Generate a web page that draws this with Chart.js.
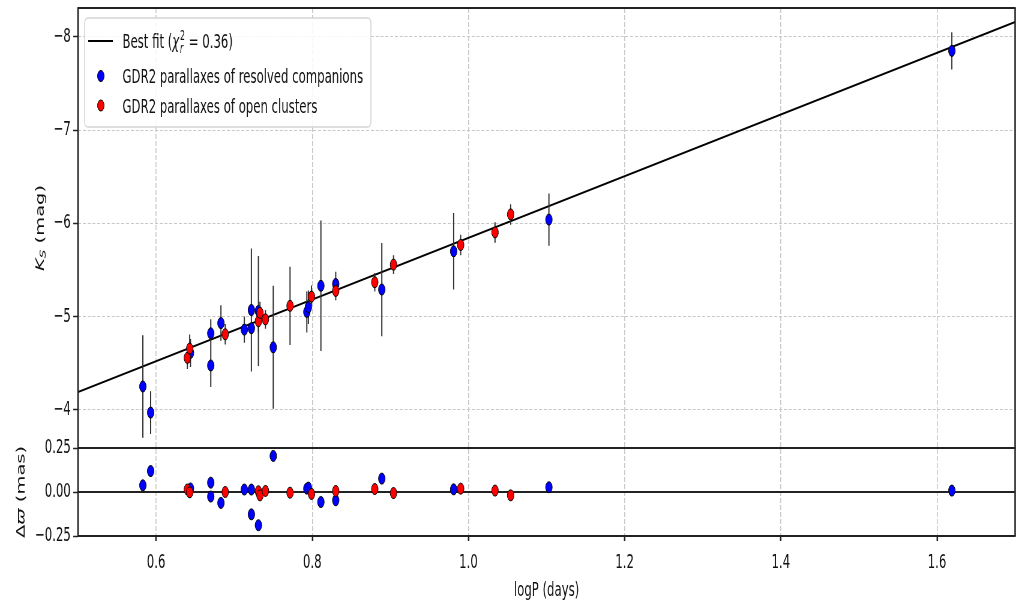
<!DOCTYPE html>
<html>
<head>
<meta charset="utf-8">
<script src="https://cdn.jsdelivr.net/npm/chart.js@4.4.1/dist/chart.umd.min.js"></script>
<style>
html, body { margin: 0; padding: 0; background: #fff; overflow: hidden; }
/* the original figure is squeezed sideways, so draw wide and squeeze it the same way */
#wrap { width: 1698px; height: 606px; transform: scaleX(0.600118); transform-origin: 0 0; }
</style>
</head>
<body>
<div id="wrap"><canvas id="pl" width="1698" height="606"></canvas></div>
<script>
// axis ticks
const xTicks = [0.6, 0.8, 1.0, 1.2, 1.4, 1.6];
const xTickLabels = ['0.6', '0.8', '1.0', '1.2', '1.4', '1.6'];
const ksTicks = [-8, -7, -6, -5, -4];
const ksTickLabels = ['−8', '−7', '−6', '−5', '−4'];
const resTicks = [0.25, 0, -0.25];
const resTickLabels = ['0.25', '0.00', '−0.25'];

// best fit line (end points)
const fitLogP = [0.5, 1.7];
const fitKs = [-4.19, -8.16];
const zeroLogP = [0.5, 1.7];
const zeroRes = [0, 0];

// GDR2 parallaxes of resolved companions (blue)
const compLogP = [0.583, 0.593, 0.644, 0.670, 0.670, 0.683, 0.713, 0.722, 0.722, 0.731, 0.750, 0.793, 0.795, 0.811, 0.830, 0.889, 0.981, 1.103, 1.619];
const compKs   = [-4.25, -3.97, -4.61, -4.82, -4.475, -4.93, -4.86, -5.07, -4.875, -5.06, -4.67, -5.05, -5.10, -5.33, -5.35, -5.29, -5.70, -6.04, -7.85];
const compErr  = [0.55, 0.23, 0.15, 0.15, 0.23, 0.19, 0.14, 0.66, 0.12, 0.59, 0.66, 0.22, 0.18, 0.70, 0.13, 0.50, 0.41, 0.28, 0.20];
const compRes  = [0.038, 0.119, 0.02, 0.053, -0.026, -0.062, 0.014, 0.014, -0.127, -0.189, 0.205, 0.019, 0.025, -0.057, -0.047, 0.076, 0.015, 0.027, 0.008];

// GDR2 parallaxes of open clusters (red)
const clusLogP = [0.640, 0.643, 0.6885, 0.731, 0.733, 0.740, 0.7715, 0.799, 0.830, 0.880, 0.904, 0.990, 1.034, 1.054];
const clusKs   = [-4.557, -4.657, -4.81, -4.95, -5.04, -4.97, -5.115, -5.214, -5.275, -5.368, -5.557, -5.768, -5.903, -6.096];
const clusErr  = [0.12, 0.15, 0.11, 0.12, 0.12, 0.10, 0.42, 0.12, 0.10, 0.10, 0.10, 0.11, 0.11, 0.11];
const clusRes  = [0.014, -0.002, 0.0, 0.004, -0.019, 0.006, -0.004, -0.011, 0.006, 0.017, -0.006, 0.019, 0.008, -0.019];

const FONT = 'DejaVu Sans';
const FS = 19.5;

function pts(xs, ys) {
  return xs.map((x, i) => ({x: x, y: ys[i]}));
}

// each error bar is a two point segment, null breaks the line between them
function errSegs(xs, ys, es) {
  const out = [];
  xs.forEach((x, i) => {
    out.push({x: x, y: ys[i] - es[i]}, {x: x, y: ys[i] + es[i]}, {x: x, y: null});
  });
  return out;
}

function setTicks(list) {
  return (scale) => { scale.ticks = list.map(v => ({value: v})); };
}

const extras = {
  id: 'extras',
  afterDraw(chart) {
    const {ctx, chartArea: a, scales} = chart;
    const mid = scales.yKs.bottom;
    ctx.save();
    // frame and panel separator
    ctx.strokeStyle = '#222';
    ctx.lineWidth = 2;
    [a.top, mid, a.bottom].forEach(y => {
      ctx.beginPath(); ctx.moveTo(a.left - 1, y); ctx.lineTo(a.right + 1, y); ctx.stroke();
    });
    ctx.lineWidth = 2.5;
    [a.left, a.right].forEach(x => {
      ctx.beginPath(); ctx.moveTo(x, a.top); ctx.lineTo(x, a.bottom); ctx.stroke();
    });

    // legend
    ctx.fillStyle = 'rgba(255,255,255,0.85)';
    ctx.strokeStyle = '#d4d4d4';
    ctx.lineWidth = 1.5;
    ctx.beginPath();
    ctx.roundRect(141, 18, 477, 109, 5);
    ctx.fill();
    ctx.stroke();

    ctx.strokeStyle = '#000';
    ctx.lineWidth = 2;
    ctx.beginPath(); ctx.moveTo(147, 41); ctx.lineTo(188, 41); ctx.stroke();
    [['#0000ff', 76], ['#ff0000', 105.5]].forEach(([c, y]) => {
      ctx.beginPath();
      ctx.arc(168, y, 5.5, 0, Math.PI * 2);
      ctx.fillStyle = c; ctx.fill();
      ctx.lineWidth = 1; ctx.strokeStyle = '#000'; ctx.stroke();
    });

    ctx.fillStyle = '#111';
    ctx.textBaseline = 'alphabetic';
    ctx.textAlign = 'left';
    let x = 204;
    const small = FS * 0.7;
    ctx.font = `${FS}px "${FONT}"`;
    ctx.fillText('Best fit (', x, 48); x += ctx.measureText('Best fit (').width;
    ctx.font = `italic ${FS}px "${FONT}"`;
    ctx.fillText('χ', x, 48); x += ctx.measureText('χ').width + 1;
    ctx.font = `${small}px "${FONT}"`;
    ctx.fillText('2', x, 40);
    const w2 = ctx.measureText('2').width;
    ctx.font = `italic ${small}px "${FONT}"`;
    ctx.fillText('r', x, 53);
    x += Math.max(w2, ctx.measureText('r').width);
    ctx.font = `${FS}px "${FONT}"`;
    ctx.fillText(' = 0.36)', x, 48);
    ctx.fillText('GDR2 parallaxes of resolved companions', 204, 83);
    ctx.fillText('GDR2 parallaxes of open clusters', 204, 112.5);

    // y axis titles, rotated
    drawRot(ctx, 68, 228, [
      {t: 'K', f: `italic ${FS}px "${FONT}"`, dy: 0},
      {t: 'S', f: `italic ${small}px "${FONT}"`, dy: 4},
      {t: ' (mag)', f: `${FS}px "${FONT}"`, dy: 0}
    ]);
    drawRot(ctx, 36, 492, [
      {t: 'Δ', f: `${FS}px "${FONT}"`, dy: 0},
      {t: 'ϖ', f: `italic ${FS}px "${FONT}"`, dy: 0},
      {t: ' (mas)', f: `${FS}px "${FONT}"`, dy: 0}
    ]);
    ctx.restore();
  }
};

function drawRot(ctx, cx, cy, parts) {
  ctx.save();
  ctx.translate(cx, cy);
  ctx.rotate(-Math.PI / 2);
  ctx.textBaseline = 'middle';
  ctx.fillStyle = '#111';
  let total = 0;
  parts.forEach(p => { ctx.font = p.f; total += ctx.measureText(p.t).width; });
  let x = -total / 2;
  parts.forEach(p => {
    ctx.font = p.f;
    ctx.fillText(p.t, x, p.dy);
    x += ctx.measureText(p.t).width;
  });
  ctx.restore();
}

function scatterSet(xs, ys, color, axis, order) {
  return {
    type: 'scatter', data: pts(xs, ys), yAxisID: axis, order: order,
    backgroundColor: color, borderColor: '#000', borderWidth: 1, pointRadius: 5.5
  };
}

function lineSet(data, color, width, axis, order) {
  return {
    type: 'line', data: data, yAxisID: axis, order: order, spanGaps: false,
    borderColor: color, borderWidth: width, pointRadius: 0, fill: false, tension: 0
  };
}

const tickFont = {family: FONT, size: FS};

new Chart(document.getElementById('pl'), {
  type: 'scatter',
  data: {
    datasets: [
      lineSet(pts(fitLogP, fitKs), '#000', 2, 'yKs', 10),
      lineSet(errSegs(compLogP, compKs, compErr), '#333', 2, 'yKs', 9),
      scatterSet(compLogP, compKs, '#0000ff', 'yKs', 8),
      lineSet(errSegs(clusLogP, clusKs, clusErr), '#333', 2, 'yKs', 7),
      scatterSet(clusLogP, clusKs, '#ff0000', 'yKs', 6),
      lineSet(pts(zeroLogP, zeroRes), '#222', 2, 'yRes', 10),
      scatterSet(compLogP, compRes, '#0000ff', 'yRes', 5),
      scatterSet(clusLogP, clusRes, '#ff0000', 'yRes', 4)
    ]
  },
  options: {
    responsive: false,
    animation: false,
    devicePixelRatio: 1,
    layout: {padding: {top: 8, right: 1, left: 0, bottom: 0}},
    plugins: {legend: {display: false}, tooltip: {enabled: false}},
    scales: {
      x: {
        type: 'linear', min: 0.5, max: 1.7,
        afterBuildTicks: setTicks(xTicks),
        afterFit(s) { s.height = 70; s.paddingLeft = 0; s.paddingRight = 0; },
        ticks: {autoSkip: false, maxRotation: 0, padding: 10, color: '#111', font: tickFont,
          callback: (v, i) => xTickLabels[i]},
        grid: {color: '#c8c8c8', lineWidth: 1.7, tickLength: 5, tickColor: '#222', tickWidth: 2.5, tickBorderDash: []},
        border: {display: false, dash: [5, 2]},
        title: {display: true, text: 'logP (days)', color: '#111', font: {family: FONT, size: FS}, padding: {top: 0, bottom: 3}}
      },
      yKs: {
        type: 'linear', position: 'left', stack: 'panels', stackWeight: 5, weight: 2,
        min: -8.31, max: -3.59, reverse: true,
        afterBuildTicks: setTicks(ksTicks),
        afterFit(s) { s.width = 130; s.paddingTop = 0; s.paddingBottom = 0; },
        ticks: {autoSkip: false, padding: 4, color: '#111', font: tickFont,
          callback: (v, i) => ksTickLabels[i]},
        grid: {color: '#c8c8c8', lineWidth: 1, tickLength: 8, tickColor: '#222', tickWidth: 1.5, tickBorderDash: []},
        border: {display: false, dash: [5, 3]}
      },
      yRes: {
        type: 'linear', position: 'left', stack: 'panels', stackWeight: 1, weight: 1,
        min: -0.25, max: 0.25,
        afterBuildTicks: setTicks(resTicks),
        afterFit(s) { s.width = 130; s.paddingTop = 0; s.paddingBottom = 0; },
        ticks: {autoSkip: false, padding: 4, color: '#111', font: tickFont,
          callback: (v, i) => resTickLabels[i]},
        grid: {drawOnChartArea: false, tickLength: 8, tickColor: '#222', tickWidth: 1.5, tickBorderDash: []},
        border: {display: false}
      }
    }
  },
  plugins: [extras]
});
</script>
</body>
</html>
